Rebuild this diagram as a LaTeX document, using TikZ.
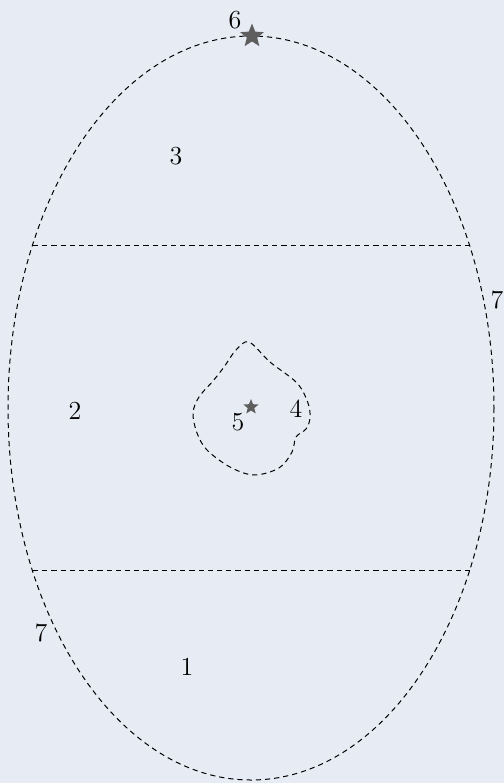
\documentclass[tikz,border=0pt]{standalone}
\usepackage{xcolor}
\usepackage{tikz}
\usetikzlibrary{shapes.geometric}
\definecolor{zonebg}{HTML}{E7EBF4}
\definecolor{zonestar}{HTML}{5E5E5E}

\begin{document}
\begin{tikzpicture}[x=0.5pt,y=-0.5pt,
  zoneline/.style={black,line width=0.5pt,dash pattern=on 2.6pt off 2pt},
  zonelabel/.style={inner sep=0pt,font=\fontsize{13}{15}\selectfont},
  zonestar/.style={star,star points=5,star point ratio=2.3,fill=zonestar,draw=none,inner sep=0pt}]
  \fill[zonebg] (0,0) rectangle (504,783);
  \useasboundingbox (0,0) rectangle (504,783);
  % outline and bands
  \draw[zoneline] (251,408) ellipse[x radius=243,y radius=372];
  \coordinate (bandTL) at (33,245);
  \coordinate (bandTR) at (470,245);
  \coordinate (bandBL) at (33,570);
  \coordinate (bandBR) at (470,570);
  \draw[zoneline] (bandTL) -- (bandTR);
  \draw[zoneline] (bandBL) -- (bandBR);
  % inner patch
  \draw[zoneline] plot[smooth cycle,tension=0.55] coordinates {
    (249,342) (270,362) (297,383) (308,403) (310,418) (306,429)
    (296,437) (292,452) (279,468) (254,475) (230,467) (207,450)
    (197,433) (193,413) (199,397) (213,381) (224,367) (236,350)};
  % stars
  \node[zonestar,minimum size=12.5pt] (topstar) at (252,36) {};
  \node[zonestar,minimum size=8pt] (midstar) at (251,407) {};
  % labels
  \node[zonelabel] (six) at (235,20) {6};
  \node[zonelabel] (three) at (176,156) {3};
  \node[zonelabel] (two) at (75,411) {2};
  \node[zonelabel] (four) at (296,409) {4};
  \node[zonelabel] (five) at (238,422) {5};
  \node[zonelabel] (one) at (187,667) {1};
  \node[zonelabel] (sevenL) at (41,633) {7};
  \node[zonelabel] (sevenR) at (497,300) {7};
\end{tikzpicture}
\end{document}
